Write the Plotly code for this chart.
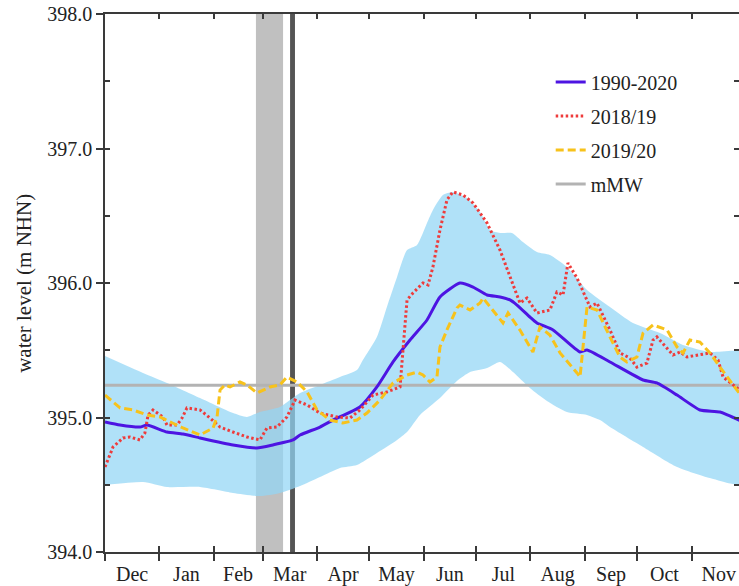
import pandas as pd
import plotly.graph_objects as go

# ---------------- data (days after 1 Dec of the hydrological year, water level m NHN) -------------
start = pd.Timestamp("2018-12-01")

band_upper_day = [0, 21.7, 35.4, 54.3, 73.1, 81.1, 88.5, 99.9, 111.4, 122.8, 134.2, 143.9, 147.3,
                  155.3, 161.0, 166.8, 172.5, 178.2, 183.9, 187.3, 193.0, 198.7, 206.7, 214.2,
                  219.9, 225.6, 232.4, 238.7, 246.7, 254.1, 263.8, 275.3, 288.4, 301.5, 317.0,
                  330.1, 345.5, 365.0]
band_upper_val = [395.457, 395.331, 395.257, 395.145, 395.033, 395.004, 395.041, 395.078, 395.182,
                  395.242, 395.301, 395.353, 395.428, 395.599, 395.822, 396.045, 396.245, 396.283,
                  396.446, 396.543, 396.654, 396.677, 396.632, 396.528, 396.394, 396.372, 396.372,
                  396.305, 396.230, 396.208, 396.119, 395.948, 395.822, 395.703, 395.628, 395.539,
                  395.487, 395.480]

band_lower_day = [0, 21.7, 35.4, 54.3, 73.1, 88.5, 99.9, 111.4, 122.8, 134.2, 143.9, 155.3, 166.8,
                  172.5, 179.9, 191.3, 201.0, 208.5, 218.2, 225.6, 233.0, 242.7, 252.4, 263.8,
                  275.3, 282.7, 288.4, 307.3, 326.7, 345.5, 365.0]
band_lower_val = [394.498, 394.520, 394.483, 394.483, 394.439, 394.416, 394.439, 394.491, 394.558,
                  394.625, 394.647, 394.736, 394.833, 394.892, 395.019, 395.145, 395.271, 395.338,
                  395.368, 395.413, 395.338, 395.219, 395.123, 395.041, 395.019, 394.981, 394.929,
                  394.781, 394.632, 394.550, 394.506]

mean_day = [0, 8.6, 20.0, 24.0, 35.4, 44.5, 54.3, 73.1, 86.8, 95.9, 107.4, 111.4, 122.8, 130.2,
            145.6, 155.3, 164.5, 174.2, 183.9, 191.3, 202.7, 210.2, 218.2, 225.6, 231.3, 235.3,
            242.7, 246.7, 255.9, 271.3, 275.3, 288.4, 307.3, 315.2, 326.7, 339.8, 351.2, 364.0]
mean_val = [394.967, 394.944, 394.929, 394.944, 394.892, 394.877, 394.848, 394.796, 394.773,
            394.796, 394.833, 394.870, 394.929, 394.981, 395.078, 395.227, 395.413, 395.576,
            395.725, 395.896, 396.000, 395.970, 395.911, 395.896, 395.874, 395.836, 395.747,
            395.703, 395.651, 395.487, 395.502, 395.413, 395.279, 395.257, 395.167, 395.056,
            395.041, 394.970]

y1819_day = [0, 4.6, 10.3, 14.3, 20.0, 22.8, 24.6, 27.4, 33.1, 35.4, 41.1, 44.0, 46.8, 54.3, 60.0,
             65.7, 73.1, 81.1, 88.5, 92.5, 98.2, 103.9, 108.5, 115.4, 122.8, 132.5, 139.9, 145.6,
             153.1, 161.0, 168.5, 170.2, 172.5, 175.9, 181.6, 184.5, 187.3, 191.3, 195.3, 198.7,
             204.5, 210.2, 218.2, 225.6, 231.3, 237.0, 241.0, 246.7, 254.1, 258.1, 261.6, 264.4,
             269.6, 277.0, 281.0, 288.4, 294.1, 299.8, 303.8, 309.5, 313.0, 315.2, 324.4, 328.4,
             332.4, 338.1, 345.5, 350.1, 353.0, 364.0]
y1819_val = [394.632, 394.781, 394.848, 394.855, 394.833, 394.885, 395.019, 395.056, 395.004,
             394.944, 394.944, 394.996, 395.071, 395.056, 394.996, 394.929, 394.892, 394.855,
             394.833, 394.922, 394.929, 395.004, 395.130, 395.093, 395.033, 395.004, 394.996,
             395.056, 395.167, 395.190, 395.227, 395.480, 395.874, 395.926, 396.000, 395.985,
             396.119, 396.394, 396.617, 396.677, 396.654, 396.595, 396.446, 396.245, 396.045,
             395.851, 395.888, 395.777, 395.799, 395.933, 395.911, 396.149, 396.037, 395.822,
             395.851, 395.651, 395.480, 395.442, 395.375, 395.405, 395.576, 395.599, 395.465,
             395.487, 395.450, 395.465, 395.480, 395.428, 395.301, 395.190]

y1920_day = [0, 8.6, 16.0, 24.0, 31.4, 37.1, 44.5, 54.3, 61.7, 64.0, 65.7, 68.5, 71.4, 77.1, 81.1,
             86.8, 94.2, 99.9, 103.9, 109.7, 115.4, 121.1, 128.5, 135.9, 143.9, 149.6, 157.1,
             164.5, 172.5, 178.2, 181.6, 185.6, 189.6, 191.3, 195.3, 201.0, 202.7, 208.5, 214.2,
             215.9, 221.6, 227.3, 230.2, 237.0, 244.4, 248.4, 254.1, 259.9, 269.6, 271.3, 275.3,
             281.0, 288.4, 294.1, 298.1, 303.8, 307.3, 313.0, 321.0, 326.7, 330.1, 334.1, 339.8,
             345.5, 351.2, 356.9, 364.0]
y1920_val = [395.167, 395.071, 395.056, 395.019, 395.004, 394.967, 394.922, 394.870, 394.922,
             395.004, 395.204, 395.242, 395.227, 395.264, 395.242, 395.182, 395.227, 395.242,
             395.301, 395.264, 395.190, 395.056, 394.981, 394.959, 394.981, 395.033, 395.130,
             395.257, 395.316, 395.338, 395.316, 395.264, 395.301, 395.524, 395.651, 395.814,
             395.836, 395.799, 395.851, 395.888, 395.799, 395.703, 395.777, 395.650, 395.487,
             395.673, 395.613, 395.480, 395.331, 395.301, 395.822, 395.799, 395.599, 395.450,
             395.413, 395.450, 395.628, 395.688, 395.651, 395.524, 395.480, 395.576, 395.561,
             395.480, 395.375, 395.279, 395.150]

mmw_level = 395.24
mmw_day = [0, 365]

gray_period_day = [86.2, 101.7]
dark_period_day = [105.7, 108.5]

legend_names = ["1990-2020", "2018/19", "2019/20", "mMW"]
y_title = "water level (m NHN)"
x_end_day = 362.1

# ---------------- helpers ----------------
def to_dates(days):
    return [start + pd.Timedelta(days=d) for d in days]

FONT = "Liberation Serif, Times New Roman, serif"
AX = "#3a3a3a"
TXT = "#222222"

fig = go.Figure()

# shaded periods
fig.add_vrect(x0=to_dates([gray_period_day[0]])[0], x1=to_dates([gray_period_day[1]])[0],
              fillcolor="#c0c0c0", line_width=0, layer="below")
fig.add_vrect(x0=to_dates([dark_period_day[0]])[0], x1=to_dates([dark_period_day[1]])[0],
              fillcolor="#555555", line_width=0, layer="below")

# min/max band
band_x = to_dates(band_upper_day) + to_dates(band_lower_day[::-1])
band_y = band_upper_val + band_lower_val[::-1]
fig.add_trace(go.Scatter(x=band_x, y=band_y, fill="toself", mode="lines",
                         line=dict(width=0, shape="spline", smoothing=0.6),
                         fillcolor="rgba(145,214,245,0.72)", showlegend=False, hoverinfo="skip"))

fig.add_trace(go.Scatter(x=to_dates(mmw_day), y=[mmw_level] * len(mmw_day), mode="lines",
                         line=dict(color="#b3b3b3", width=3), name=legend_names[3],
                         legendrank=4, legendgroup="d"))
fig.add_trace(go.Scatter(x=to_dates(mean_day), y=mean_val, mode="lines",
                         line=dict(color="#4d14e2", width=3, shape="spline", smoothing=0.5),
                         name=legend_names[0], legendrank=1, legendgroup="a"))
fig.add_trace(go.Scatter(x=to_dates(y1819_day), y=y1819_val, mode="lines",
                         line=dict(color="#ee3b3b", width=3, dash="2.5px,2.5px"),
                         name=legend_names[1], legendrank=2, legendgroup="b"))
fig.add_trace(go.Scatter(x=to_dates(y1920_day), y=y1920_val, mode="lines",
                         line=dict(color="#f7c21b", width=3, dash="8px,4px"),
                         name=legend_names[2], legendrank=3, legendgroup="c"))

# invisible helpers so the tick-only overlay axes are drawn
fig.add_trace(go.Scatter(x=to_dates(mean_day), y=mean_val, xaxis="x2", yaxis="y2", mode="lines",
                         opacity=0, showlegend=False, hoverinfo="skip"))
fig.add_trace(go.Scatter(x=to_dates(mean_day), y=mean_val, xaxis="x3", yaxis="y3", mode="lines",
                         opacity=0, showlegend=False, hoverinfo="skip"))

x_range = [start, start + pd.Timedelta(days=x_end_day)]
y_range = [394.0, 398.0]

xcommon = dict(type="date", range=x_range, tickmode="linear", tick0=start, dtick="M1",
               showgrid=False, zeroline=False, automargin=False, tickcolor=AX, tickwidth=1.5)
ycommon = dict(range=y_range, showgrid=False, zeroline=False, automargin=False,
               tickcolor=AX, tickwidth=1.5)

fig.update_layout(
    width=739, height=586,
    margin=dict(l=105, r=0, t=14, b=34),
    plot_bgcolor="white", paper_bgcolor="white",
    font=dict(family=FONT, size=20, color=TXT),
    showlegend=True,
    legend=dict(x=0.703, y=0.91, xanchor="left", yanchor="top", bgcolor="rgba(0,0,0,0)",
                font=dict(family=FONT, size=20, color=TXT), traceorder="grouped",
                tracegroupgap=5, itemwidth=30),
    xaxis=dict(**xcommon, ticks="outside", ticklen=7, ticklabelmode="period", tickformat="%b",
               ticklabelstandoff=-4, showline=True, linecolor=AX, linewidth=1.5, anchor="y",
               tickfont=dict(family=FONT, size=20, color=TXT)),
    xaxis2=dict(**xcommon, overlaying="x", side="bottom", anchor="y", ticks="inside", ticklen=6,
                showticklabels=False, showline=False),
    xaxis3=dict(**xcommon, overlaying="x", side="top", anchor="y", ticks="inside", ticklen=5,
                showticklabels=False, showline=True, linecolor=AX, linewidth=1.5),
    yaxis=dict(**ycommon, tickmode="linear", tick0=394, dtick=1, ticks="outside", ticklen=7,
               tickformat=".1f", showline=True, linecolor=AX, linewidth=1.5, anchor="x",
               tickfont=dict(family=FONT, size=20, color=TXT)),
    yaxis2=dict(**ycommon, overlaying="y", side="left", anchor="x", tickmode="linear", tick0=394,
                dtick=0.5, ticks="inside", ticklen=5, showticklabels=False, showline=False),
    yaxis3=dict(**ycommon, overlaying="y", side="right", anchor="x", tickmode="linear", tick0=394,
                dtick=0.5, ticks="inside", ticklen=5, showticklabels=False, showline=False),
    annotations=[dict(text=y_title, xref="paper", yref="paper", x=-0.128, y=0.5,
                      xanchor="center", yanchor="middle", textangle=-90, showarrow=False,
                      font=dict(family=FONT, size=21, color=TXT))],
)

fig.write_html("out.html")
